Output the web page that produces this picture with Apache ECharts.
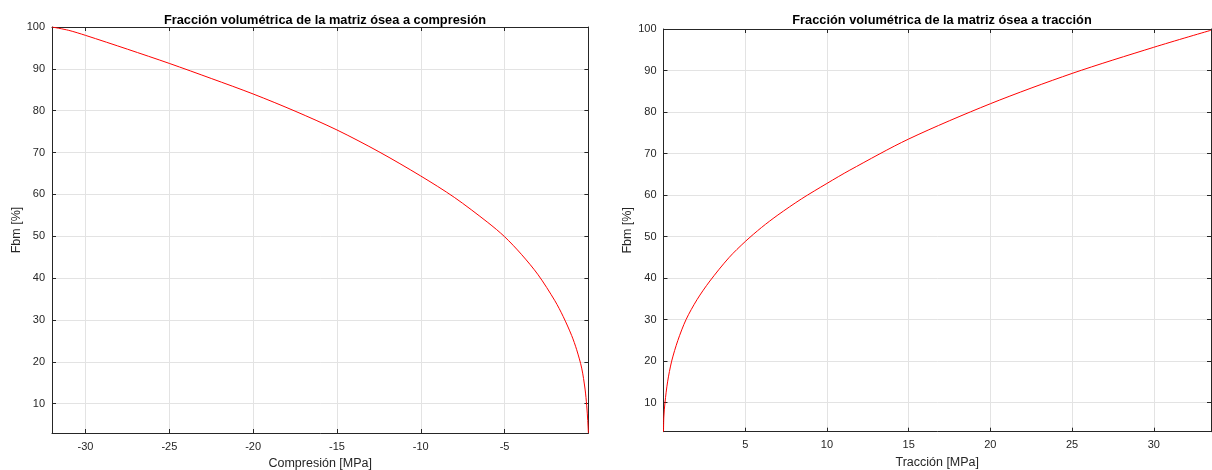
<!DOCTYPE html>
<html>
<head>
<meta charset="utf-8">
<script src="https://cdn.jsdelivr.net/npm/echarts@6/dist/echarts.min.js"></script>
<style>
html,body{margin:0;padding:0;background:#fff;}
#c{width:1212px;height:470px;}
</style>
</head>
<body>
<div id="c"></div>
<script>
// Compression (left) data: stress [MPa] vs Fbm [%]
const compStress = [-32.0, -31.0, -30.0, -27.5, -25.0, -22.5, -20.0, -17.5, -15.0, -12.5, -10.0, -8.0, -6.0, -5.0, -4.0, -3.0, -2.0, -1.5, -1.0, -0.7, -0.4, -0.2, -0.1, -0.04, 0.0];
const compFbm    = [100, 99.2, 98.0, 94.7, 91.3, 87.7, 84.0, 79.9, 75.4, 70.2, 64.4, 59.3, 53.3, 49.9, 45.7, 40.8, 34.6, 30.8, 26.3, 22.9, 18.5, 13.5, 9.5, 6.0, 3.0];
// Tension (right) data
const tracStress = [0.0, 0.02, 0.09, 0.25, 0.50, 0.88, 1.38, 2.05, 2.84, 4.0, 5.0, 6.0, 7.0, 8.45, 10.0, 11.4, 15.0, 20.0, 25.0, 30.0, 33.5];
const tracFbm    = [3.0, 6.5, 10.0, 15.0, 20.0, 25.0, 30.0, 34.8, 39.3, 44.9, 48.8, 52.2, 55.2, 59.1, 62.8, 66.0, 73.5, 82.0, 89.3, 95.6, 99.7];
// Tick labels
const compTicks = [-30, -25, -20, -15, -10, -5];
const tracTicks = [5, 10, 15, 20, 25, 30];
const fbmTicks = [10, 20, 30, 40, 50, 60, 70, 80, 90, 100];

const titles = ['Fracción volumétrica de la matriz ósea a compresión', 'Fracción volumétrica de la matriz ósea a tracción'];
const xNames = ['Compresión [MPa]', 'Tracción [MPa]'];
const yName = 'Fbm [%]';

const AX = '#262626';
const GRIDC = '#e3e3e3';
const FONT = 'Liberation Sans';

const pairs = (xs, ys) => xs.map((x, i) => [x, ys[i]]);

function xAxisDef(gi, min, max, ticks, pos, showLabels, name) {
  return {
    type: 'value', gridIndex: gi, position: pos, min: min, max: max,
    name: name || '', nameLocation: 'middle', nameGap: 24,
    nameTextStyle: {color: AX, fontSize: 12.5, fontFamily: FONT},
    axisLine: {show: true, onZero: false, lineStyle: {color: AX, width: 1}},
    axisTick: {show: true, inside: true, length: 4, customValues: ticks, lineStyle: {color: AX}},
    axisLabel: {show: showLabels, customValues: ticks, color: AX, fontSize: 11, fontFamily: FONT, margin: 8},
    splitLine: {show: showLabels, lineStyle: {color: GRIDC, width: 1}}
  };
}
function yAxisDef(gi, ticks, pos, showLabels, name) {
  return {
    type: 'value', gridIndex: gi, position: pos, min: 3, max: 100,
    name: name || '', nameLocation: 'middle', nameGap: 27,
    nameTextStyle: {color: AX, fontSize: 12.5, fontFamily: FONT},
    axisLine: {show: true, onZero: false, lineStyle: {color: AX, width: 1}},
    axisTick: {show: true, inside: true, length: 4, customValues: ticks, lineStyle: {color: AX}},
    axisLabel: {show: showLabels, customValues: ticks, color: AX, fontSize: 11, fontFamily: FONT, margin: 7},
    splitLine: {show: showLabels, lineStyle: {color: GRIDC, width: 1}}
  };
}

const chart = echarts.init(document.getElementById('c'), null, {renderer: 'canvas'});
chart.setOption({
  animation: false,
  backgroundColor: '#fff',
  title: [
    {text: titles[0], left: 320, top: 9, textAlign: 'center', textStyle: {fontSize: 12.8, fontWeight: 'bold', color: '#000', fontFamily: FONT}},
    {text: titles[1], left: 937, top: 9, textAlign: 'center', textStyle: {fontSize: 12.8, fontWeight: 'bold', color: '#000', fontFamily: FONT}}
  ],
  grid: [
    {left: 52, right: 623.6, top: 27, bottom: 37, containLabel: false, outerBoundsMode: 'none'},
    {left: 663.5, right: 1, top: 29, bottom: 38.3, containLabel: false, outerBoundsMode: 'none'}
  ],
  xAxis: [
    xAxisDef(0, -32, 0, compTicks, 'bottom', true, xNames[0]),
    xAxisDef(0, -32, 0, compTicks, 'top', false),
    xAxisDef(1, 0, 33.5, tracTicks, 'bottom', true, xNames[1]),
    xAxisDef(1, 0, 33.5, tracTicks, 'top', false)
  ],
  yAxis: [
    yAxisDef(0, fbmTicks, 'left', true, yName),
    yAxisDef(0, fbmTicks, 'right', false),
    yAxisDef(1, fbmTicks, 'left', true, yName),
    yAxisDef(1, fbmTicks, 'right', false)
  ],
  series: [
    {type: 'line', xAxisIndex: 0, yAxisIndex: 0, data: pairs(compStress, compFbm), showSymbol: false, smooth: 0.3, lineStyle: {color: '#ff0000', width: 1}},
    {type: 'line', xAxisIndex: 2, yAxisIndex: 2, data: pairs(tracStress, tracFbm), showSymbol: false, smooth: 0.3, lineStyle: {color: '#ff0000', width: 1}}
  ]
});
</script>
</body>
</html>
